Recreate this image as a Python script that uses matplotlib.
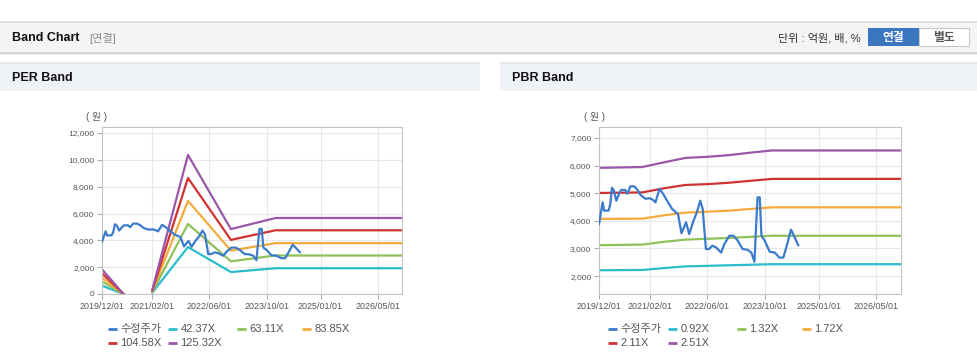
import matplotlib
matplotlib.use("Agg")
import matplotlib.pyplot as plt
import matplotlib.dates as mdates
from matplotlib.patches import Rectangle
from matplotlib.ticker import FuncFormatter
import numpy as np
import pandas as pd

plt.rcParams['font.family'] = ['Liberation Sans', 'Noto Sans CJK KR', 'DejaVu Sans']

## adjusted price (수정주가), shared by both charts
price_dates = ["2019-12-01", "2019-12-15", "2020-01-01", "2020-01-13", "2020-02-20", "2020-03-05",
               "2020-03-20", "2020-04-05", "2020-04-25", "2020-05-12", "2020-06-05", "2020-07-10",
               "2020-07-28", "2020-08-22", "2020-09-25", "2020-10-25", "2020-11-15", "2020-12-28",
               "2021-02-03", "2021-03-01", "2021-03-22", "2021-04-25", "2021-05-25", "2021-06-28",
               "2021-08-10", "2021-09-10", "2021-09-28", "2021-10-28", "2021-12-05", "2022-01-01",
               "2022-02-06", "2022-03-07", "2022-04-04", "2022-04-25", "2022-05-22", "2022-06-18",
               "2022-07-15", "2022-08-15", "2022-09-28", "2022-10-25", "2022-12-06", "2023-01-12",
               "2023-02-15", "2023-03-28", "2023-05-10", "2023-06-10", "2023-07-06", "2023-08-01",
               "2023-08-20", "2023-09-03", "2023-10-01", "2023-11-12", "2023-12-25", "2024-02-01",
               "2024-03-06", "2024-04-04", "2024-05-10", "2024-06-03", "2024-07-10"]
price = [3885, 4250, 4670, 4370, 4370, 4600,
         5200, 5100, 4730, 4910, 5120, 5120,
         4980, 5250, 5250, 5100, 4940, 4800,
         4820, 4760, 4670, 5160, 4980, 4730,
         4430, 4310, 4250, 3550, 3950, 3520,
         4000, 4310, 4730, 4430, 2980, 2980,
         3100, 3040, 2850, 3160, 3460, 3460,
         3280, 2980, 2950, 2850, 2520, 4850,
         4850, 3460, 3280, 2880, 2850, 2670,
         2670, 3100, 3680, 3460, 3120]

## PER bands
per_dates = ["2019-12-01", "2020-06-01", "2020-09-01", "2021-02-01", "2021-12-01",
             "2022-12-01", "2023-12-15", "2026-11-25"]
per_labels = ["42.37X", "63.11X", "83.85X", "104.58X", "125.32X"]
per_42 = [620, 0, np.nan, 105, 3500, 1635, 1920, 1920]
per_63 = [930, 0, np.nan, 160, 5220, 2435, 2870, 2870]
per_84 = [1230, 0, np.nan, 210, 6940, 3235, 3790, 3790]
per_105 = [1540, 0, np.nan, 260, 8650, 4035, 4750, 4750]
per_125 = [1840, 0, np.nan, 315, 10370, 4840, 5665, 5665]

## PBR bands
pbr_dates = ["2019-12-01", "2020-12-01", "2021-06-01", "2021-12-01", "2022-06-01",
             "2022-12-01", "2023-06-01", "2023-12-01", "2026-11-25"]
pbr_labels = ["0.92X", "1.32X", "1.72X", "2.11X", "2.51X"]
pbr_092 = [2210, 2220, 2290, 2350, 2370, 2390, 2410, 2430, 2430]
pbr_132 = [3120, 3140, 3240, 3320, 3350, 3380, 3420, 3460, 3460]
pbr_172 = [4070, 4080, 4200, 4300, 4330, 4370, 4430, 4490, 4490]
pbr_211 = [5010, 5030, 5180, 5300, 5330, 5380, 5450, 5520, 5520]
pbr_251 = [5920, 5950, 6120, 6280, 6320, 6380, 6470, 6550, 6550]

xtick_dates = ["2019-12-01", "2021-02-01", "2022-06-01", "2023-10-01", "2025-01-01", "2026-05-01"]

price_col = "#3b7bcc"
band_cols = ["#2bbccc", "#8fc05a", "#f5ab3c", "#d03232", "#9a56a8"]

W, H = 978, 361
fig = plt.figure(figsize=(W / 100, H / 100), dpi=100)

## page furniture in pixel coords
bg = fig.add_axes([0, 0, 1, 1])
bg.set_xlim(0, W)
bg.set_ylim(H, 0)
bg.axis("off")
bg.add_patch(Rectangle((0, 21), W, 2, color="#dedede", lw=0))
bg.add_patch(Rectangle((0, 23), W, 29, color="#f4f4f4", lw=0))
bg.add_patch(Rectangle((0, 52), W, 1.5, color="#d4d4d4", lw=0))
bg.add_patch(Rectangle((0, 53.5), W, 1.5, color="#ebebeb", lw=0))
bg.text(12, 38, "Band Chart", fontsize=9, fontweight="bold", color="#111111", va="center")
bg.text(89, 38, "[연결]", fontsize=8, color="#8c8c8c", va="center")
bg.text(861, 38, "단위 : 억원, 배, %", fontsize=8, color="#333333", va="center", ha="right")
bg.add_patch(Rectangle((868, 28), 51, 18, color="#3a77bf", lw=0))
bg.add_patch(Rectangle((919, 28), 50, 18, facecolor="white", edgecolor="#c8c8c8", lw=0.8))
bg.text(893.5, 37.5, "연결", fontsize=8.5, fontweight="bold", color="white", ha="center", va="center")
bg.text(944, 37.5, "별도", fontsize=8.5, fontweight="bold", color="#555555", ha="center", va="center")

for x0, x1, name in [(0, 480, "PER Band"), (500, W, "PBR Band")]:
    bg.add_patch(Rectangle((x0, 62), x1 - x0, 29, color="#eff2f7", lw=0))
    bg.add_patch(Rectangle((x0, 62), x1 - x0, 2, color="#e3e7ee", lw=0))
    bg.text(x0 + 12, 78, name, fontsize=9, fontweight="bold", color="#111111", va="center")


def draw_band(rect, bdates, bands, labels, ylim, yticks, unit_x, leg_x):
    ax = fig.add_axes(rect)
    ax.plot(pd.to_datetime(price_dates), price, color=price_col, lw=1.6, zorder=5)
    for vals, c in zip(bands, band_cols):
        ax.plot(pd.to_datetime(bdates), vals, color=c, lw=1.6)
    ax.set_xlim(pd.Timestamp("2019-12-01"), pd.Timestamp("2026-11-25"))
    ax.set_ylim(*ylim)
    ax.set_yticks(yticks)
    ax.yaxis.set_major_formatter(FuncFormatter(lambda v, p: f"{int(v):,}"))
    ax.set_xticks(pd.to_datetime(xtick_dates))
    ax.xaxis.set_major_formatter(mdates.DateFormatter("%Y/%m/%d"))
    ax.grid(True, color="#e8e8e8", lw=0.8)
    ax.set_axisbelow(True)
    for s in ax.spines.values():
        s.set_color("#c4c4c4")
        s.set_linewidth(0.8)
    ax.tick_params(axis="y", labelsize=6, colors="#999999", labelcolor="#555555",
                   length=3.5, width=0.6, pad=2)
    ax.tick_params(axis="x", labelsize=6.4, colors="#999999", labelcolor="#555555",
                   length=3.5, width=0.6, pad=2)
    bg.text(unit_x, 117, "( 원 )", fontsize=7, color="#555555", ha="center", va="center")
    # legend, flow layout like the page
    items = [("수정주가", price_col)] + list(zip(labels, band_cols))
    pos = [(leg_x[0], 329), (leg_x[1], 329), (leg_x[2], 329), (leg_x[3], 329),
           (leg_x[0], 343), (leg_x[1], 343)]
    for (txt, c), (px, py) in zip(items, pos):
        bg.plot([px, px + 9], [py, py], color=c, lw=2, solid_capstyle="butt")
        bg.text(px + 12.5, py, txt, fontsize=8, color="#555555", va="center")
    return ax


draw_band([102 / W, 1 - 294 / H, 300 / W, 167 / H], per_dates,
          [per_42, per_63, per_84, per_105, per_125], per_labels,
          (0, 12450), [0, 2000, 4000, 6000, 8000, 10000, 12000], 97, [108, 168, 237, 302])
draw_band([599 / W, 1 - 294 / H, 302 / W, 167 / H], pbr_dates,
          [pbr_092, pbr_132, pbr_172, pbr_211, pbr_251], pbr_labels,
          (1350, 7400), [2000, 3000, 4000, 5000, 6000, 7000], 594, [608, 668, 737, 802])

fig.savefig("out.png", dpi=100)
